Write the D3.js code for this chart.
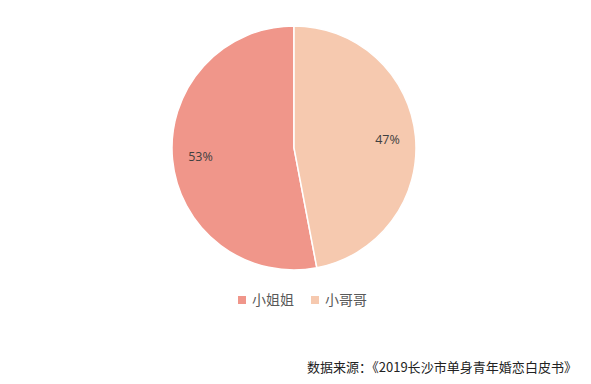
<!DOCTYPE html>
<html>
<head>
<meta charset="utf-8">
<script src="https://cdn.jsdelivr.net/npm/d3@7"></script>
<style>
  html, body { margin: 0; padding: 0; background: #fff; }
  svg { display: block; }
</style>
</head>
<body>
<svg id="chart"></svg>
<script>
// 数据
const categories = ['小姐姐', '小哥哥'];
const values = [53, 47];
const colors = ['#F0968A', '#F6C9AF'];
const source = '数据来源：《2019长沙市单身青年婚恋白皮书》';

const W = 591, H = 384;
const cx = 294, cy = 148, R = 122;

const svg = d3.select('#chart').attr('width', W).attr('height', H);

// 第二项从12点方向开始顺时针
const total = d3.sum(values);
const start = 2 * Math.PI * values[values.length - 1] / total;
const pie = d3.pie().sort(null).value(d => d.v)
    .startAngle(start).endAngle(start + 2 * Math.PI);
const data = pie(categories.map((c, i) => ({ c: c, v: values[i], i: i })));

const arc = d3.arc().innerRadius(0).outerRadius(R);
const labelArc = d3.arc().innerRadius(R * 0.77).outerRadius(R * 0.77);

const g = svg.append('g').attr('transform', 'translate(' + cx + ',' + cy + ')');

g.selectAll('path.slice')
    .data(data)
    .enter()
    .append('path')
    .attr('class', 'slice')
    .attr('d', arc)
    .attr('fill', d => colors[d.data.i])
    .attr('stroke', '#fff')
    .attr('stroke-width', 1.5);

g.selectAll('text.pct')
    .data(data)
    .enter()
    .append('text')
    .attr('class', 'pct')
    .attr('transform', d => 'translate(' + labelArc.centroid(d) + ')')
    .attr('text-anchor', 'middle')
    .attr('dy', '0.35em')
    .attr('font-family', 'Open Sans, Noto Sans, sans-serif')
    .attr('font-size', 12.5)
    .attr('fill', '#404040')
    .text(d => d.data.v + '%');

// 图例
const legend = svg.append('g').attr('transform', 'translate(238,300)');
const item = legend.selectAll('g.item')
    .data(categories)
    .enter()
    .append('g')
    .attr('class', 'item')
    .attr('transform', (d, i) => 'translate(' + (i * 73) + ',0)');
item.append('rect')
    .attr('x', 0).attr('y', -4)
    .attr('width', 8).attr('height', 8)
    .attr('fill', (d, i) => colors[i]);
item.append('text')
    .attr('x', 14)
    .attr('dy', '0.36em')
    .attr('font-family', 'Noto Sans CJK SC, sans-serif')
    .attr('font-size', 14)
    .attr('fill', '#595959')
    .text(d => d);

// 数据来源
svg.append('text')
    .attr('x', 307)
    .attr('y', 372)
    .attr('font-family', 'Noto Sans CJK SC, sans-serif')
    .attr('font-size', 13)
    .attr('fill', '#222')
    .attr('textLength', 270)
    .text(source);
</script>
</body>
</html>
